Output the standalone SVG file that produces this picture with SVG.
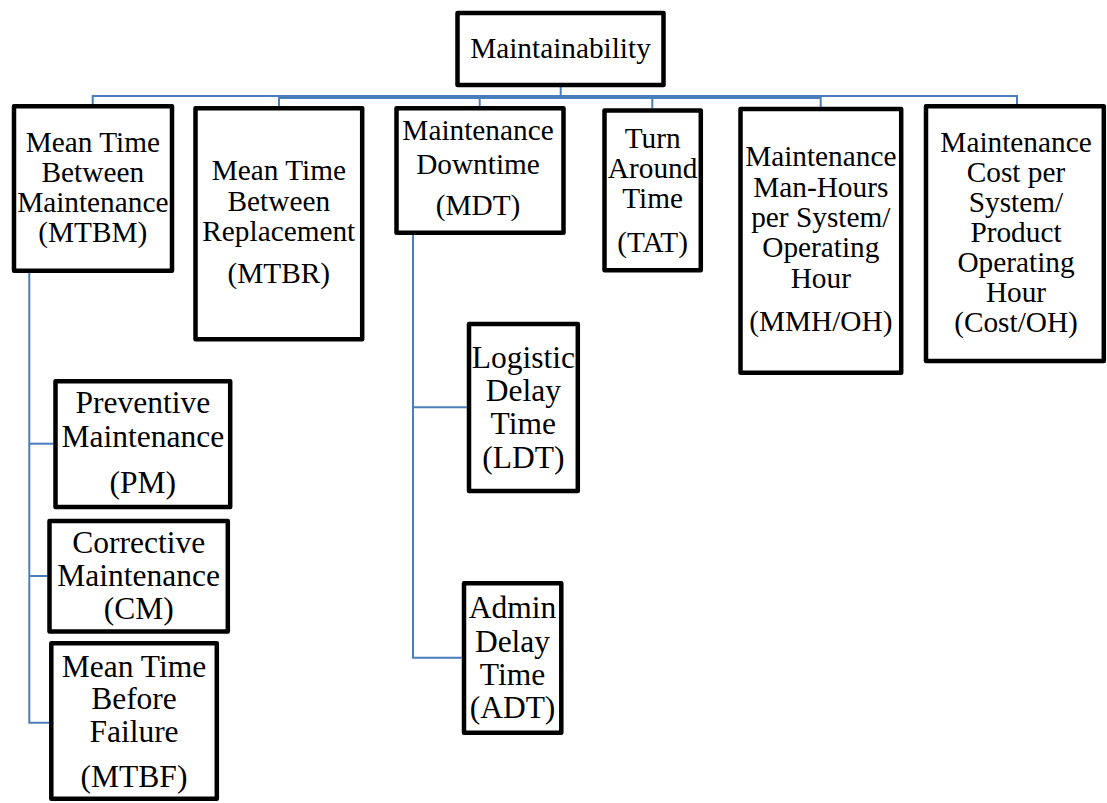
<svg xmlns="http://www.w3.org/2000/svg" width="1107" height="803" viewBox="0 0 1107 803">
<style>
.box{fill:#fff;stroke:#000;stroke-width:4.5;stroke-linejoin:round}
text{font-family:"Liberation Serif","Times New Roman","DejaVu Serif",serif;font-size:29.3px;fill:#000;text-anchor:middle}
text.s{font-size:31.5px}
.c{fill:none;stroke:#4a7ebb;stroke-width:2}
</style>
<rect width="1107" height="803" fill="#fff"/>
<g id="connectors">
<polyline class="c" points="560.7,87 560.7,98"/>
<polyline class="c" points="92.7,104 92.7,96 1017,96 1017,104"/>
<polyline class="c" points="279,106 279,98 820.7,98 820.7,107"/>
<line class="c" x1="479.7" y1="98" x2="479.7" y2="106"/>
<line class="c" x1="652.3" y1="98" x2="652.3" y2="108"/>
<polyline class="c" points="29.3,273 29.3,722.7 49,722.7"/>
<line class="c" x1="29.3" y1="443.7" x2="53.3" y2="443.7"/>
<line class="c" x1="29.3" y1="576" x2="47.3" y2="576"/>
<polyline class="c" points="413,235 413,657.7 461.7,657.7"/>
<line class="c" x1="413" y1="407.3" x2="466.7" y2="407.3"/>
</g>
<g id="maintainability">
<rect class="box" x="457.5" y="13" width="206" height="72"/>
<text x="560.5" y="58">Maintainability</text>
</g>
<g id="mtbm">
<rect class="box" x="14" y="106.3" width="158" height="164.5"/>
<text x="92.8" y="151.7">Mean Time</text>
<text x="92.8" y="181.7">Between</text>
<text x="92.8" y="211.7">Maintenance</text>
<text x="92.8" y="241.7">(MTBM)</text>
</g>
<g id="mtbr">
<rect class="box" x="195.5" y="108.3" width="166.7" height="231"/>
<text x="278.8" y="180">Mean Time</text>
<text x="278.8" y="210.7">Between</text>
<text x="278.8" y="240.7">Replacement</text>
<text x="278.8" y="283.3">(MTBR)</text>
</g>
<g id="mdt">
<rect class="box" x="396.5" y="108.3" width="167" height="124.5"/>
<text x="478" y="140">Maintenance</text>
<text x="478" y="174">Downtime</text>
<text x="478" y="215">(MDT)</text>
</g>
<g id="tat">
<rect class="box" x="604.5" y="110.5" width="96.3" height="159.7"/>
<text x="652.6" y="147.7">Turn</text>
<text x="652.6" y="177.7">Around</text>
<text x="652.6" y="208.3">Time</text>
<text x="652.6" y="251.7">(TAT)</text>
</g>
<g id="mmh">
<rect class="box" x="740.5" y="109" width="160.7" height="263.8"/>
<text x="820.8" y="166">Maintenance</text>
<text x="820.8" y="197">Man-Hours</text>
<text x="820.8" y="227">per System/</text>
<text x="820.8" y="257">Operating</text>
<text x="820.8" y="288">Hour</text>
<text x="820.8" y="331">(MMH/OH)</text>
</g>
<g id="cost">
<rect class="box" x="926" y="106.3" width="177.8" height="254.8"/>
<text x="1016" y="151.7">Maintenance</text>
<text x="1016" y="181.7">Cost per</text>
<text x="1016" y="211.7">System/</text>
<text x="1016" y="241.7">Product</text>
<text x="1016" y="271.7">Operating</text>
<text x="1016" y="301.7">Hour</text>
<text x="1016" y="331.7">(Cost/OH)</text>
</g>
<g id="pm">
<rect class="box" x="55.5" y="381.3" width="174.7" height="125.8"/>
<text class="s" x="142.8" y="413.3">Preventive</text>
<text class="s" x="142.8" y="447">Maintenance</text>
<text class="s" x="142.8" y="492.7">(PM)</text>
</g>
<g id="cm">
<rect class="box" x="49.5" y="521" width="178.3" height="110.5"/>
<text class="s" x="138.7" y="552.7">Corrective</text>
<text class="s" x="138.7" y="585.5">Maintenance</text>
<text class="s" x="138.7" y="618.5">(CM)</text>
</g>
<g id="mtbf">
<rect class="box" x="51.3" y="643.3" width="165.5" height="155.5"/>
<text class="s" x="134" y="676.5">Mean Time</text>
<text class="s" x="134" y="709">Before</text>
<text class="s" x="134" y="742.4">Failure</text>
<text class="s" x="134" y="787">(MTBF)</text>
</g>
<g id="ldt">
<rect class="box" x="469" y="324" width="108.8" height="167"/>
<text class="s" x="523.3" y="368.3">Logistic</text>
<text class="s" x="523.3" y="400.5">Delay</text>
<text class="s" x="523.3" y="434">Time</text>
<text class="s" x="523.3" y="468">(LDT)</text>
</g>
<g id="adt">
<rect class="box" x="464" y="583.3" width="97.3" height="149.5"/>
<text class="s" x="512.5" y="618.3">Admin</text>
<text class="s" x="512.5" y="651.7">Delay</text>
<text class="s" x="512.5" y="685">Time</text>
<text class="s" x="512.5" y="718.3">(ADT)</text>
</g>
</svg>
